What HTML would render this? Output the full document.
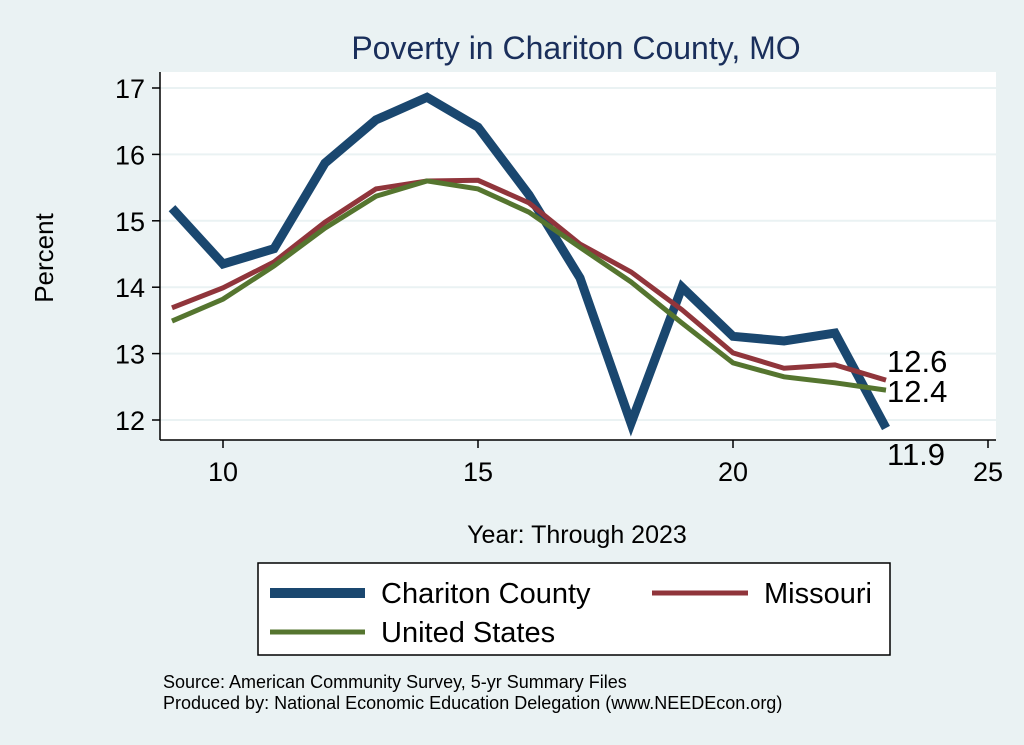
<!DOCTYPE html>
<html><head><meta charset="utf-8"><style>
body{margin:0;background:#eaf2f3;}
svg{display:block;font-family:"Liberation Sans",Arial,sans-serif;}
</style></head><body>
<svg id="c" width="1024" height="745" viewBox="0 0 1024 745">
<rect x="0" y="0" width="1024" height="745" fill="#eaf2f3"/>
<rect x="160" y="72" width="836" height="368" fill="#ffffff"/>
<text x="576" y="59" font-size="32" fill="#1a2f5b" text-anchor="middle">Poverty in Chariton County, MO</text>
<g id="grid"></g><g id="axes"></g><g id="lines"></g>
<text transform="translate(53,258) rotate(-90)" font-size="26" text-anchor="middle" fill="#000">Percent</text>
<text x="577" y="543" font-size="25" text-anchor="middle" fill="#000">Year: Through 2023</text>
<g>
<rect x="258" y="563" width="632" height="92" fill="#fff" stroke="#000" stroke-width="1.5"/>
<line x1="270" y1="593" x2="365" y2="593" stroke="#1a476f" stroke-width="10"/>
<text x="381" y="603" font-size="29">Chariton County</text>
<line x1="652" y1="593" x2="748" y2="593" stroke="#90353b" stroke-width="5"/>
<text x="764" y="603" font-size="29">Missouri</text>
<line x1="270" y1="632" x2="365" y2="632" stroke="#55752f" stroke-width="5"/>
<text x="381" y="642" font-size="29">United States</text>
</g>
<text x="163" y="688" font-size="18">Source: American Community Survey, 5-yr Summary Files</text>
<text x="163" y="709" font-size="18">Produced by: National Economic Education Delegation (www.NEEDEcon.org)</text>
</svg>
<script>
const years=[9,10,11,12,13,14,15,16,17,18,19,20,21,22,23];
const chariton=[15.19,14.35,14.58,15.87,16.52,16.86,16.41,15.39,14.14,11.95,14.0,13.26,13.19,13.31,11.88];
const missouri=[13.69,13.99,14.38,14.98,15.48,15.6,15.61,15.27,14.65,14.23,13.66,13.01,12.78,12.83,12.6];
const us=[13.49,13.82,14.32,14.89,15.37,15.6,15.48,15.13,14.6,14.08,13.46,12.86,12.65,12.56,12.45];
const xTicks=[10,15,20,25];
const yTicks=[12,13,14,15,16,17];
const NS="http://www.w3.org/2000/svg";
const xs=v=>223+(v-10)*51;
const ys=v=>420-(v-12)*66.4;
function mk(t,a,p){const e=document.createElementNS(NS,t);for(const k in a)e.setAttribute(k,a[k]);p.appendChild(e);return e;}
const grid=document.getElementById('grid'),axes=document.getElementById('axes'),lines=document.getElementById('lines');
yTicks.forEach(v=>{
const g=mk('line',{x1:160,x2:996,y1:ys(v),y2:ys(v),stroke:'#eaf2f3','stroke-width':2},grid);


const t=mk('line',{x1:152,x2:160,y1:ys(v),y2:ys(v),stroke:'#000','stroke-width':1.5},axes);


const l=mk('text',{x:145,y:ys(v)+10,'font-size':27,'text-anchor':'end'},axes);l.textContent=v;


});
xTicks.forEach(v=>{
const t=mk('line',{x1:xs(v),x2:xs(v),y1:440,y2:448,stroke:'#000','stroke-width':1.5},axes);


const l=mk('text',{x:xs(v),y:481,'font-size':27,'text-anchor':'middle'},axes);l.textContent=v;


});
const ya=mk('line',{x1:160,x2:160,y1:72,y2:440,stroke:'#000','stroke-width':1.5},axes);


const xa=mk('line',{x1:160,x2:996,y1:440,y2:440,stroke:'#000','stroke-width':1.5},axes);


function series(d,col,w,name,dy){
const p=mk('polyline',{points:d.map((v,i)=>xs(years[i])+','+ys(v)).join(' '),fill:'none',stroke:col,'stroke-width':w,'stroke-linejoin':'miter'},lines);


const last=d[d.length-1];
const l=mk('text',{x:xs(years[years.length-1])+1,y:ys(last)+dy,'font-size':31},lines);l.textContent=last.toFixed(1);


}
series(chariton,'#1a476f',9,'chariton',37);
series(missouri,'#90353b',5,'missouri',-8);
series(us,'#55752f',5,'us',12);
</script>
</body></html>
